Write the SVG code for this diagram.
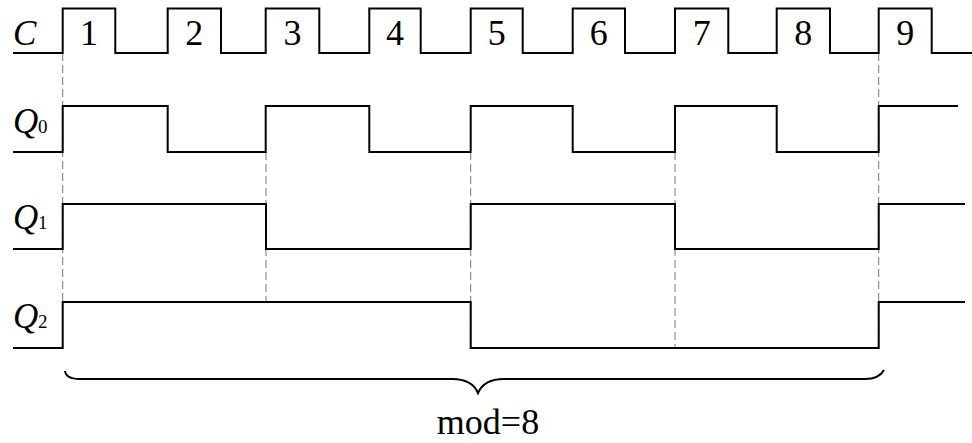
<svg xmlns="http://www.w3.org/2000/svg" width="972" height="443" viewBox="0 0 972 443">
<style>
.sig{fill:none;stroke:#000;stroke-width:2;stroke-linejoin:miter}
.dash{fill:none;stroke:#777;stroke-width:1;stroke-dasharray:8,4}
.brace{fill:none;stroke:#000;stroke-width:2}
text{fill:#000}
</style>
<rect width="972" height="443" fill="#fff"/>
<g id="connectors">
<line class="dash" x1="62.7" y1="53" x2="62.7" y2="303"/>
<line class="dash" x1="266" y1="152" x2="266" y2="303"/>
<line class="dash" x1="470.7" y1="152" x2="470.7" y2="348"/>
<line class="dash" x1="675" y1="152" x2="675" y2="348"/>
<line class="dash" x1="878.7" y1="53" x2="878.7" y2="348"/>
</g>
<g font-family="Liberation Serif, DejaVu Serif, serif">
<g id="clock">
<text x="13" y="45" font-size="35" font-style="italic">C</text>
<path class="sig" d="M13,53 H62.7 V8.5 H115.3 V53 H167.7 V8.5 H221 V53 H265.7 V8.5 H319.3 V53 H369.3 V8.5 H420.7 V53 H470.7 V8.5 H522.7 V53 H572.7 V8.5 H625 V53 H675 V8.5 H728.3 V53 H776.7 V8.5 H830 V53 H878.7 V8.5 H931.7 V53 H972"/>
<g font-size="36" text-anchor="middle">
<text x="89" y="45">1</text>
<text x="194.3" y="45">2</text>
<text x="292.5" y="45">3</text>
<text x="395" y="45">4</text>
<text x="496.7" y="45">5</text>
<text x="598.8" y="45">6</text>
<text x="701.7" y="45">7</text>
<text x="803.3" y="45">8</text>
<text x="905.2" y="45">9</text>
</g>
</g>
<g id="q0">
<text x="13" y="133" font-size="35" font-style="italic">Q</text><text x="38" y="133" font-size="19">0</text>
<path class="sig" d="M13,152 H62.7 V106 H167.7 V152 H265.7 V106 H369.3 V152 H470.7 V106 H572.7 V152 H675 V106 H776.7 V152 H878.7 V106 H958"/>
</g>
<g id="q1">
<text x="13" y="229" font-size="35" font-style="italic">Q</text><text x="38" y="229" font-size="19">1</text>
<path class="sig" d="M13,249 H62.7 V204 H266 V249 H470.7 V204 H675 V249 H878.7 V204 H965"/>
</g>
<g id="q2">
<text x="13" y="328" font-size="35" font-style="italic">Q</text><text x="38" y="328" font-size="19">2</text>
<path class="sig" d="M13,348 H62.7 V302 H470.7 V348 H878.7 V302 H965"/>
</g>
<g id="brace">
<path class="brace" d="M65,371 Q66,379 80,379 L452,379 Q472,379 478,393 Q484,379 504,379 L865,379 Q879,379 884,370"/>
<text x="488" y="434" font-size="36" text-anchor="middle">mod=8</text>
</g>
</g>
</svg>
